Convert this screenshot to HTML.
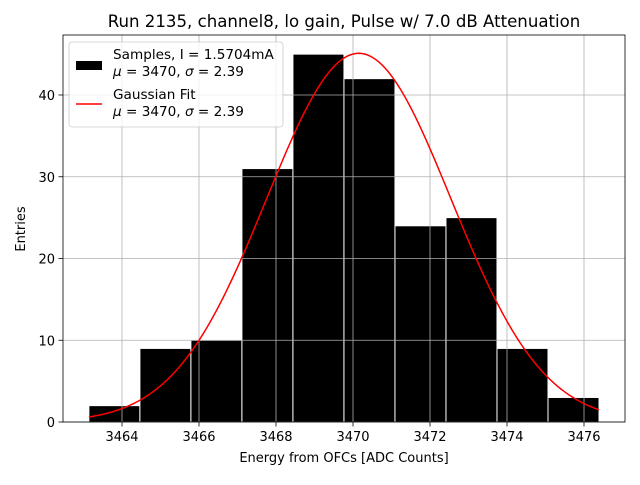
<!DOCTYPE html>
<html><head><meta charset="utf-8"><style>
body{margin:0;background:#fff;}
svg{font-family:"DejaVu Sans","Liberation Sans",sans-serif;}
</style></head><body>
<svg id="c" width="640" height="480" viewBox="0 0 640 480">
<rect width="640" height="480" fill="#fff"/>
<g id="bars"></g><g id="grid"></g><g id="curve"></g><g id="axes"></g>
</svg>
<script>
const binEdgesStart = 3463.14;
const binWidth = 1.325;
const counts = [2, 9, 10, 31, 45, 42, 24, 25, 9, 3];
const xTicks = [3464, 3466, 3468, 3470, 3472, 3474, 3476];
const yTicks = [0, 10, 20, 30, 40];
const fitAmp = [45.1];
const fitMu = [3470.15];
const fitSigma = [2.39];

const L=63,R=625,T=35,B=422;
const x = v => 122 + (v-3464)*38.5;
const y = v => 422 - v*8.175;
const NS="http://www.w3.org/2000/svg";
function mk(tag, attrs, parent){const e=document.createElementNS(NS,tag);for(const k in attrs)e.setAttribute(k,attrs[k]);parent.appendChild(e);return e;}
const grid=document.getElementById('grid'), bars=document.getElementById('bars'), curve=document.getElementById('curve'), axes=document.getElementById('axes');

xTicks.forEach(t=>{
  const g=mk('line',{x1:x(t),x2:x(t),y1:T,y2:B,stroke:'#b0b0b0','stroke-width':0.8},grid);
  
  
  mk('line',{x1:x(t),x2:x(t),y1:B,y2:B+4.5,stroke:'#000','stroke-width':0.8},axes);
  const tx=mk('text',{x:x(t),y:B+19,'text-anchor':'middle','font-size':13,fill:'#000'},axes);
  tx.textContent=t;
  
  
});
yTicks.forEach(t=>{
  const g=mk('line',{x1:L,x2:R,y1:y(t),y2:y(t),stroke:'#b0b0b0','stroke-width':0.8},grid);
  
  
  mk('line',{x1:L-4.5,x2:L,y1:y(t),y2:y(t),stroke:'#000','stroke-width':0.8},axes);
  const tx=mk('text',{x:L-8,y:y(t)+5,'text-anchor':'end','font-size':13,fill:'#000'},axes);
  tx.textContent=t;
  
  
});
counts.forEach((c,i)=>{
  const x0=x(binEdgesStart+i*binWidth), x1=x(binEdgesStart+(i+1)*binWidth);
  const r=mk('rect',{x:x0,y:y(c),width:x1-x0,height:y(0)-y(c),fill:'#000',stroke:'#fff','stroke-width':1},bars);
  
  
});
let pts=[];
const xs=binEdgesStart, xe=binEdgesStart+counts.length*binWidth;
for(let k=0;k<=200;k++){const v=xs+(xe-xs)*k/200;const g=fitAmp[0]*Math.exp(-((v-fitMu[0])**2)/(2*fitSigma[0]**2));pts.push(x(v).toFixed(2)+','+y(g).toFixed(2));}
const pl=mk('polyline',{points:pts.join(' '),fill:'none',stroke:'#ff0000','stroke-width':1.5},curve);


const fr=mk('rect',{x:L,y:T,width:R-L,height:B-T,fill:'none',stroke:'#000','stroke-width':0.8},axes);


</script>
<svg style="position:absolute;left:0;top:0" width="640" height="480">
<text x="344" y="27" text-anchor="middle" font-size="16.6">Run 2135, channel8, lo gain, Pulse w/ 7.0 dB Attenuation</text>
<text x="344" y="462" text-anchor="middle" font-size="13">Energy from OFCs [ADC Counts]</text>
<text x="25" y="229" text-anchor="middle" font-size="13" transform="rotate(-90 25 229)">Entries</text>
<g>
<rect x="69" y="42" width="214" height="85" rx="3" fill="#fff" fill-opacity="0.8" stroke="#ccc" stroke-width="0.8"/>
<rect x="76" y="61" width="26" height="9" fill="#000"/>
<text x="113" y="59" font-size="13.6">Samples, I = 1.5704mA</text>
<text x="113" y="76" font-size="13.6"><tspan font-style="italic">μ</tspan> = 3470, <tspan font-style="italic">σ</tspan> = 2.39</text>
<line x1="76" y1="104" x2="102" y2="104" stroke="#ff0000" stroke-width="1.5"/>
<text x="113" y="99" font-size="13.6">Gaussian Fit</text>
<text x="113" y="116" font-size="13.6"><tspan font-style="italic">μ</tspan> = 3470, <tspan font-style="italic">σ</tspan> = 2.39</text>
</g>
</svg>
</body></html>
